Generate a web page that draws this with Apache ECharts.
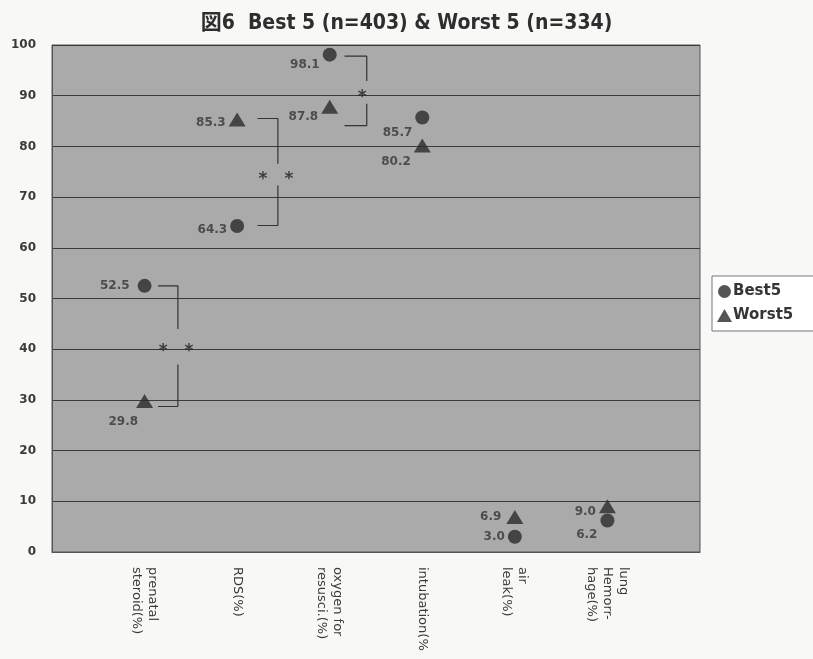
<!DOCTYPE html>
<html><head><meta charset="utf-8">
<script src="https://cdn.jsdelivr.net/npm/echarts@6/dist/echarts.min.js"></script>
<style>html,body{margin:0;padding:0;background:#f8f8f6}#c{width:813px;height:659px}</style>
</head><body><div id="c"></div>
<script>
// ---- data ----
const categories = ['prenatal\nsteroid(%)', 'RDS(%)', 'oxygen for\nresusci.(%)', 'intubation(%', 'air\nleak(%)', 'lung\nHemorr-\nhage(%)'];
const best5 = [52.5, 64.3, 98.1, 85.7, 3.0, 6.2];
const worst5 = [29.8, 85.3, 87.8, 80.2, 6.9, 9.0];
const yTicks = [0, 10, 20, 30, 40, 50, 60, 70, 80, 90, 100];
// significance brackets (category index, upper end, lower end, gap around asterisks)
const bracketCats = [1, 2, 3];
const bracketTop = [52.5, 85.5, 97.8];
const bracketBottom = [28.7, 64.4, 84.1];
const gapTop = [44, 76.6, 92.9];
const gapBottom = [37, 72.3, 88.4];
const starCount = [2, 2, 1];

// ---- styling (positions of annotations relative to category) ----
const bracketLeft = [0.145, 0.22, 0.16];
const bracketRight = [0.36, 0.44, 0.40];
const bestLabelOffset = [[-5, 0], [0, 4], [0, 10], [0, 15], [0, 0], [0, 14]];
const worstLabelOffset = [[5, 21], [0, 3], [0, 10], [0, 16], [-2, 0], [0, 6]];

const ink = '#2b2b2b';
const textCol = '#353535';

const bracketData = [];
const starData = [];
bracketCats.forEach((c, i) => {
  const xl = c + bracketLeft[i], xr = c + bracketRight[i];
  bracketData.push([xl, bracketTop[i]], [xr, bracketTop[i]], [xr, gapTop[i]], '-',
    [xr, gapBottom[i]], [xr, bracketBottom[i]], [xl, bracketBottom[i]], '-');
  const ym = (gapTop[i] + gapBottom[i]) / 2;
  if (starCount[i] === 2) {
    starData.push([xr - 0.16, ym], [xr + 0.12, ym]);
  } else {
    starData.push([xr - 0.05, ym]);
  }
});

const labelBase = {show: true, position: 'left', distance: 3, color: textCol,
  fontFamily: 'DejaVu Sans', fontWeight: 'bold', fontSize: 12,
  formatter: p => p.value[1].toFixed(1)};

const chart = echarts.init(document.getElementById('c'), null, {renderer: 'canvas'});
chart.setOption({
  animation: false,
  backgroundColor: '#f8f8f6',
  title: {
    text: '図6  Best 5 (n=403) & Worst 5 (n=334)', left: 'center', top: 8,
    textStyle: {fontFamily: 'DejaVu Sans Condensed, Liberation Sans Narrow, Noto Sans CJK JP, sans-serif', fontWeight: 'bold', fontSize: 21, color: '#2e2e2e'}
  },
  legend: {
    data: ['Best5', 'Worst5'], orient: 'vertical', left: 712, top: 276,
    backgroundColor: '#ffffff', borderColor: '#777', borderWidth: 1,
    padding: [8, 22, 8, 5], itemGap: 9, itemWidth: 15, itemHeight: 13,
    textStyle: {fontFamily: 'DejaVu Sans', fontWeight: 'bold', fontSize: 15, color: textCol, padding: [2, 0, 0, -4]}
  },
  grid: {left: 52, right: 113, top: 45, bottom: 107, show: true, backgroundColor: '#aaaaaa', borderColor: '#555', borderWidth: 1},
  xAxis: {
    type: 'value', min: 0, max: 7, interval: 1,
    axisLine: {show: true, lineStyle: {color: '#555'}},
    axisTick: {show: false}, splitLine: {show: false},
    axisLabel: {
      rotate: -90, margin: 15, lineHeight: 16, color: '#3a3a3a', fontFamily: 'DejaVu Sans', fontSize: 13,
      formatter: v => categories[v - 1] || ''
    }
  },
  yAxis: {
    type: 'value', min: yTicks[0], max: yTicks[yTicks.length - 1], interval: 10,
    axisLine: {show: true, lineStyle: {color: '#555'}},
    axisTick: {show: false},
    splitLine: {show: true, lineStyle: {color: '#3a3a3a', width: 1}},
    axisLabel: {margin: 16, color: '#3a3a3a', fontFamily: 'DejaVu Sans', fontWeight: 'bold', fontSize: 12}
  },
  series: [
    {
      name: 'Best5', type: 'scatter', symbol: 'circle', symbolSize: 14,
      itemStyle: {color: ink}, z: 5,
      data: best5.map((v, i) => ({value: [i + 1, v], label: Object.assign({}, labelBase, {offset: bestLabelOffset[i]})})),
      label: labelBase
    },
    {
      name: 'Worst5', type: 'scatter', symbol: 'triangle', symbolSize: [17, 14],
      itemStyle: {color: ink}, z: 5,
      data: worst5.map((v, i) => ({value: [i + 1, v], label: Object.assign({}, labelBase, {offset: worstLabelOffset[i]})})),
      label: labelBase
    },
    {
      name: 'brackets', type: 'line', data: bracketData, symbol: 'none', connectNulls: false,
      lineStyle: {color: '#333', width: 1.2}, silent: true, z: 4
    },
    {
      name: 'stars', type: 'scatter', data: starData, symbolSize: 0, silent: true, z: 6,
      label: {show: true, position: 'inside', formatter: '*', offset: [0, 5], color: '#222', fontFamily: 'DejaVu Sans', fontWeight: 'bold', fontSize: 17}
    }
  ]
});
</script>
</body></html>
